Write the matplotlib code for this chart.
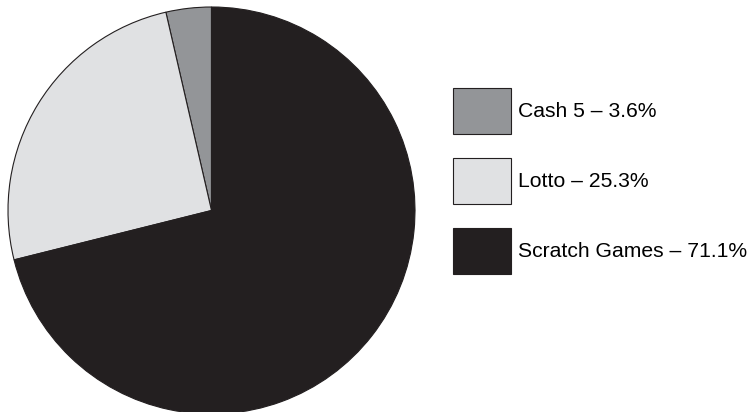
import matplotlib
matplotlib.use('Agg')
import matplotlib.pyplot as plt

plt.rcParams['font.family'] = ['Liberation Sans', 'DejaVu Sans']

# data
games = ['Cash 5', 'Lotto', 'Scratch Games']
shares = [3.6, 25.3, 71.1]
colors = ['#939598', '#e0e1e3', '#231f20']
labels = [f'{g} \u2013 {s}%' for g, s in zip(games, shares)]

W, H = 749, 412
fig = plt.figure(figsize=(W / 100, H / 100), dpi=100)

# pie axes placed in pixel terms (center ~ (211, 211), r ~ 203)
ax = fig.add_axes([8 / W, (H - 414) / H, 407 / W, 407 / H])
wedges, _ = ax.pie(shares, colors=colors, startangle=90, counterclock=True,
                   radius=1.0, wedgeprops=dict(edgecolor='#231f20', linewidth=0.8))
ax.set_xlim(-1.0, 1.0)
ax.set_ylim(-1.0, 1.0)
ax.set_aspect('auto')
ax.axis('off')

fs = 15.2
fpx = fs * 100 / 72
# legend box height = fs*(0.65*hh + 0.245)
hh = (46 / fpx - 0.245) / 0.65
fig.legend(wedges, labels, loc='upper left', bbox_to_anchor=(453 / W, 1 - 88 / H),
           frameon=False, fontsize=fs, borderpad=0, borderaxespad=0,
           handlelength=58 / fpx, handleheight=hh,
           handletextpad=7 / fpx, labelspacing=24 / fpx)

fig.savefig('out.png', dpi=100)
